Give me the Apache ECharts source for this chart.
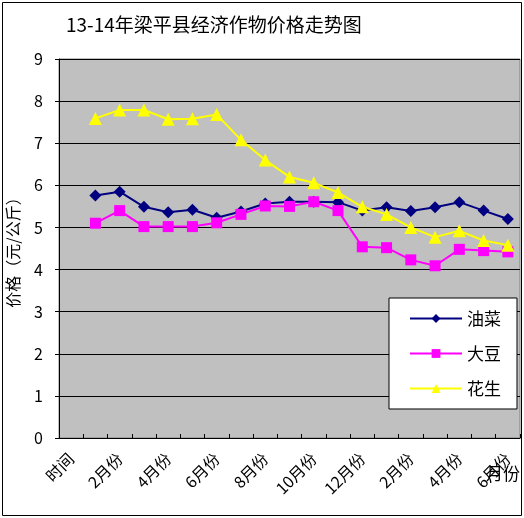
<!DOCTYPE html>
<html>
<head>
<meta charset="utf-8">
<script src="https://cdn.jsdelivr.net/npm/echarts@6/dist/echarts.min.js"></script>
<style>
  html, body { margin: 0; padding: 0; background: #fff; }
  #chart { width: 524px; height: 518px; }
</style>
</head>
<body>
<div id="chart"></div>
<script>
// 横轴：第一格是表头“时间”，之后 13年1月 到 14年6月
var months = ['时间', '1月份', '2月份', '3月份', '4月份', '5月份', '6月份', '7月份', '8月份',
  '9月份', '10月份', '11月份', '12月份', '1月份', '2月份', '3月份', '4月份', '5月份', '6月份'];

// 价格（元/公斤），第一格“时间”没有数据
var youcai = [null, 5.76, 5.85, 5.49, 5.36, 5.42, 5.23, 5.38, 5.57, 5.61,
  5.61, 5.60, 5.40, 5.48, 5.39, 5.48, 5.60, 5.40, 5.20];
var dadou = [null, 5.10, 5.40, 5.02, 5.02, 5.02, 5.11, 5.31, 5.51, 5.50,
  5.61, 5.40, 4.54, 4.52, 4.23, 4.09, 4.48, 4.45, 4.42];
var huasheng = [null, 7.59, 7.79, 7.79, 7.57, 7.58, 7.68, 7.08, 6.60, 6.20,
  6.06, 5.83, 5.49, 5.31, 5.00, 4.77, 4.92, 4.69, 4.58];

var chart = echarts.init(document.getElementById('chart'));

function line(name, data, color, symbol, size) {
  return {
    name: name,
    type: 'line',
    data: data,
    symbol: symbol,
    symbolSize: size,
    lineStyle: { color: color, width: 2 },
    itemStyle: { color: color },
    animation: false
  };
}

var option = {
  textStyle: { fontFamily: '"Noto Sans CJK SC", "DejaVu Sans", sans-serif', color: '#000' },
  title: {
    text: '13-14年梁平县经济作物价格走势图',
    left: 61,
    top: 10,
    textStyle: { fontSize: 19, fontWeight: 'normal', color: '#000' }
  },
  legend: {
    orient: 'vertical',
    left: 389,
    top: 298,
    backgroundColor: '#fff',
    borderColor: '#000',
    borderWidth: 1,
    padding: [12, 16, 12, 20],
    itemGap: 18,
    itemWidth: 52,
    itemHeight: 11,
    textStyle: { fontSize: 17, color: '#000' },
    data: ['油菜', '大豆', '花生']
  },
  grid: {
    left: 59,
    right: 4,
    top: 59,
    bottom: 80,
    outerBoundsMode: 'none',
    show: true,
    backgroundColor: '#C0C0C0',
    borderColor: '#808080',
    borderWidth: 1
  },
  xAxis: {
    type: 'category',
    data: months,
    boundaryGap: true,
    name: '月份',
    nameLocation: 'end',
    nameGap: -34,
    nameMoveOverlap: false,
    nameTextStyle: { fontSize: 17, color: '#000', verticalAlign: 'top', padding: [27, 0, 0, 0] },
    axisLine: { lineStyle: { color: '#000', width: 1 } },
    axisTick: { show: true, interval: 0, inside: true, length: 4, lineStyle: { color: '#000' } },
    axisLabel: { interval: 1, rotate: 45, fontSize: 16, color: '#000', margin: 18 }
  },
  yAxis: {
    type: 'value',
    min: 0,
    max: 9,
    interval: 1,
    name: '价格（元/公斤）',
    nameLocation: 'middle',
    nameGap: 38,
    nameTextStyle: { fontSize: 16, color: '#000' },
    axisLine: { show: true, lineStyle: { color: '#000' } },
    axisTick: { show: true, length: 4, lineStyle: { color: '#000' } },
    axisLabel: { fontSize: 16, color: '#000', margin: 16 },
    splitLine: { lineStyle: { color: '#000', width: 1 } }
  },
  graphic: [{
    type: 'rect',
    shape: { x: 2.5, y: 2.5, width: 519, height: 513 },
    style: { fill: 'none', stroke: '#000', lineWidth: 1 },
    silent: true
  }],
  series: [
    line('油菜', youcai, '#000080', 'diamond', 12),
    line('大豆', dadou, '#FF00FF', 'rect', 11),
    line('花生', huasheng, '#FFFF00', 'triangle', 13)
  ]
};

chart.setOption(option);
</script>
</body>
</html>
